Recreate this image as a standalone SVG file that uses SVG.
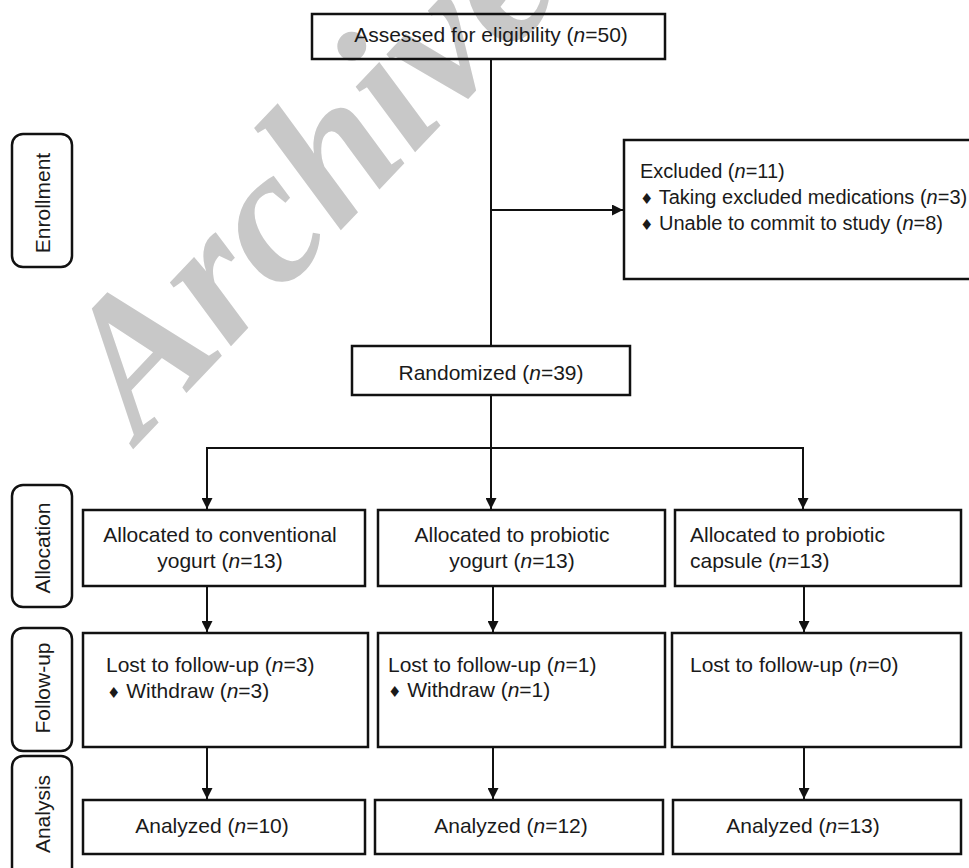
<svg xmlns="http://www.w3.org/2000/svg" width="969" height="868" viewBox="0 0 969 868">
<style>
.box{fill:none;stroke:#111;stroke-width:2.5}
.side{fill:none;stroke:#111;stroke-width:2.5}
.t{font-family:"Liberation Sans",Arial,sans-serif;font-size:21px;fill:#1a1a1a}
.m{text-anchor:middle}
.i{font-style:italic}
.d{font-family:"DejaVu Sans",sans-serif;font-size:15px}
.c{fill:none;stroke:#111;stroke-width:2}
.wm{font-family:"Liberation Serif","Times New Roman",serif;font-weight:bold;font-style:italic;font-size:192px;fill:#c8c8c8}
</style>
<defs>
<marker id="ah" viewBox="0 0 10 10" refX="10" refY="5" markerWidth="11" markerHeight="11" markerUnits="userSpaceOnUse" orient="auto">
<path d="M0,0 L10,5 L0,10 Z" fill="#111"/>
</marker>
</defs>
<rect width="969" height="868" fill="#fff"/>
<text class="wm" transform="translate(140,442) rotate(-46.5)">Archive</text>

<g id="side-enrollment"><rect class="side" x="12" y="134" width="60" height="133" rx="11"/><text class="t m" transform="translate(50,203) rotate(-90)">Enrollment</text></g>
<g id="side-allocation"><rect class="side" x="12" y="485" width="60" height="122" rx="11"/><text class="t m" transform="translate(50,548) rotate(-90)">Allocation</text></g>
<g id="side-followup"><rect class="side" x="12" y="628" width="60" height="123" rx="11"/><text class="t m" transform="translate(50,688) rotate(-90)">Follow-up</text></g>
<g id="side-analysis"><rect class="side" x="12" y="756" width="60" height="130" rx="11"/><text class="t m" transform="translate(50,814) rotate(-90)">Analysis</text></g>

<g id="connectors">
<line class="c" x1="491" y1="59" x2="491" y2="346"/>
<line class="c" x1="491" y1="210" x2="623" y2="210" marker-end="url(#ah)"/>
<line class="c" x1="491" y1="395" x2="491" y2="509" marker-end="url(#ah)"/>
<polyline class="c" points="207,448 803,448 803,509" marker-end="url(#ah)"/>
<line class="c" x1="207" y1="447" x2="207" y2="509" marker-end="url(#ah)"/>
<line class="c" x1="207" y1="586" x2="207" y2="632" marker-end="url(#ah)"/>
<line class="c" x1="493" y1="586" x2="493" y2="632" marker-end="url(#ah)"/>
<line class="c" x1="804" y1="586" x2="804" y2="632" marker-end="url(#ah)"/>
<line class="c" x1="207" y1="747" x2="207" y2="799" marker-end="url(#ah)"/>
<line class="c" x1="493" y1="747" x2="493" y2="799" marker-end="url(#ah)"/>
<line class="c" x1="804" y1="747" x2="804" y2="799" marker-end="url(#ah)"/>
</g>

<g id="assessed"><rect class="box" x="312" y="14" width="353" height="45"/><text class="t m" x="491" y="42">Assessed for eligibility (<tspan class="i">n</tspan>=50)</text></g>
<g id="excluded"><rect class="box" x="624" y="140" width="360" height="139"/>
<text class="t" x="640" y="178" style="font-size:20px">Excluded (<tspan class="i">n</tspan>=11)</text>
<text class="t" x="640" y="204" style="font-size:20px"><tspan class="d">♦</tspan> Taking excluded medications (<tspan class="i">n</tspan>=3)</text>
<text class="t" x="640" y="230" style="font-size:20px"><tspan class="d">♦</tspan> Unable to commit to study (<tspan class="i">n</tspan>=8)</text>
</g>
<g id="randomized"><rect class="box" x="352" y="346" width="278" height="49"/><text class="t m" x="491" y="380">Randomized (<tspan class="i">n</tspan>=39)</text></g>

<g id="alloc-conventional"><rect class="box" x="83" y="510" width="282" height="76"/><text class="t m" x="220" y="542">Allocated to conventional</text><text class="t m" x="220" y="568">yogurt (<tspan class="i">n</tspan>=13)</text></g>
<g id="alloc-probiotic-yogurt"><rect class="box" x="378" y="510" width="287" height="76"/><text class="t m" x="512" y="542">Allocated to probiotic</text><text class="t m" x="512" y="568">yogurt (<tspan class="i">n</tspan>=13)</text></g>
<g id="alloc-probiotic-capsule"><rect class="box" x="675" y="510" width="286" height="76"/><text class="t" x="690" y="542">Allocated to probiotic</text><text class="t" x="690" y="568">capsule (<tspan class="i">n</tspan>=13)</text></g>

<g id="fu-conventional"><rect class="box" x="83" y="633" width="285" height="114"/><text class="t" x="106" y="672">Lost to follow-up (<tspan class="i">n</tspan>=3)</text><text class="t" x="107" y="698"><tspan class="d">♦</tspan> Withdraw (<tspan class="i">n</tspan>=3)</text></g>
<g id="fu-probiotic-yogurt"><rect class="box" x="378" y="633" width="287" height="114"/><text class="t" x="388" y="672">Lost to follow-up (<tspan class="i">n</tspan>=1)</text><text class="t" x="388" y="697"><tspan class="d">♦</tspan> Withdraw (<tspan class="i">n</tspan>=1)</text></g>
<g id="fu-probiotic-capsule"><rect class="box" x="672" y="633" width="289" height="114"/><text class="t" x="690" y="672">Lost to follow-up (<tspan class="i">n</tspan>=0)</text></g>

<g id="an-conventional"><rect class="box" x="83" y="800" width="282" height="54"/><text class="t m" x="212" y="833">Analyzed (<tspan class="i">n</tspan>=10)</text></g>
<g id="an-probiotic-yogurt"><rect class="box" x="375" y="800" width="288" height="54"/><text class="t m" x="511" y="833">Analyzed (<tspan class="i">n</tspan>=12)</text></g>
<g id="an-probiotic-capsule"><rect class="box" x="673" y="800" width="288" height="54"/><text class="t m" x="803" y="833">Analyzed (<tspan class="i">n</tspan>=13)</text></g>
</svg>
